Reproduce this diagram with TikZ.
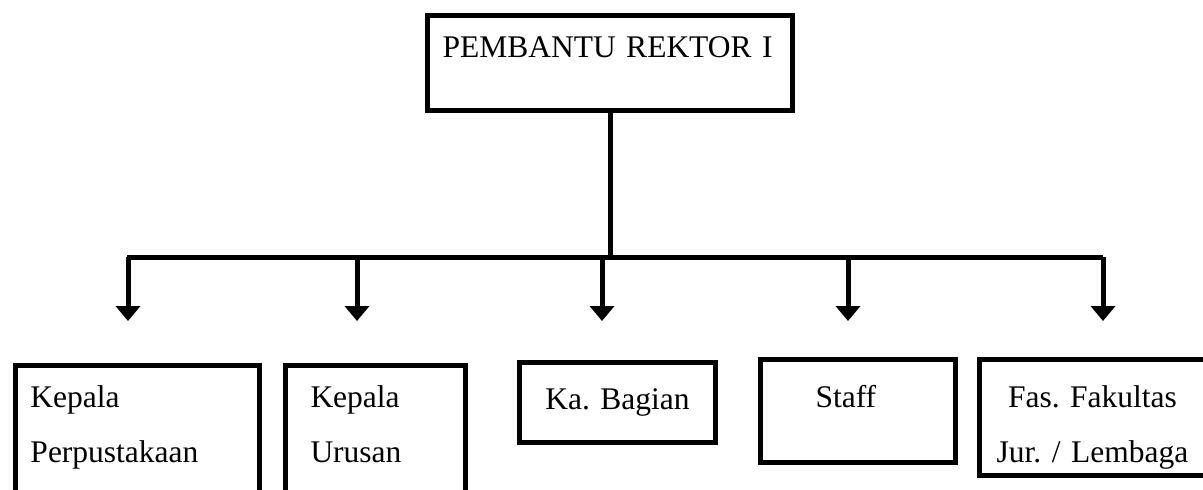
\documentclass[tikz,border=0pt]{standalone}
\usepackage{fontspec}
\setmainfont{Liberation Serif}
\frenchspacing
\usetikzlibrary{arrows.meta}

\begin{document}
\begin{tikzpicture}[x=1pt, y=-1pt,
    unit/.style={draw, line width=5pt, inner ysep=0pt, anchor=north west,
                 font=\fontsize{31.5}{55}\selectfont\frenchspacing, align=left},
    link/.style={line width=5pt},
    arr/.style={line width=5pt, -{Triangle[width=24pt, length=15pt]}},
  ]
    \useasboundingbox (0,0) rectangle (1203,490);
    \clip (0,0) rectangle (1203,490);
    \node[unit, inner xsep=15pt, text width=335pt, text height=42pt, text depth=53pt]
      (pr) at (425,13) {PEMBANTU REKTOR I};
    \node[unit, inner xsep=15pt, text width=214pt, text height=42pt, text depth=128pt]
      (perpus) at (13,363) {Kepala\\Perpustakaan};
    \node[unit, inner xsep=25pt, text width=130pt, text height=42pt, text depth=128pt]
      (urusan) at (283,363) {Kepala\\Urusan};
    \node[unit, inner xsep=14pt, text width=168pt, text height=47pt, text depth=33pt, align=center]
      (bagian) at (517,360) {Ka. Bagian};
    \node[unit, inner xsep=55pt, text width=85pt, text height=48pt, text depth=55pt]
      (staff) at (758,357) {Staff};
    \node[unit, inner xsep=0pt, text width=226pt, text height=48pt, text depth=68pt, align=center]
      (fakultas) at (977,357) {Fas. Fakultas\\Jur. / Lembaga};
    % bus line under the top box
    \coordinate (busL) at (127,257);
    \coordinate (busR) at (1103,257);
    \draw[link] (pr.south) -- (pr.south |- busL);
    \draw[link] (busL) -- (busR);
    \foreach \n/\x in {perpus/128, urusan/357, bagian/602, staff/848, fakultas/1103} {
      \coordinate (to\n) at (\x,321);
      \draw[arr] (to\n |- busL) -- (to\n);
    }
  \end{tikzpicture}
\end{document}
